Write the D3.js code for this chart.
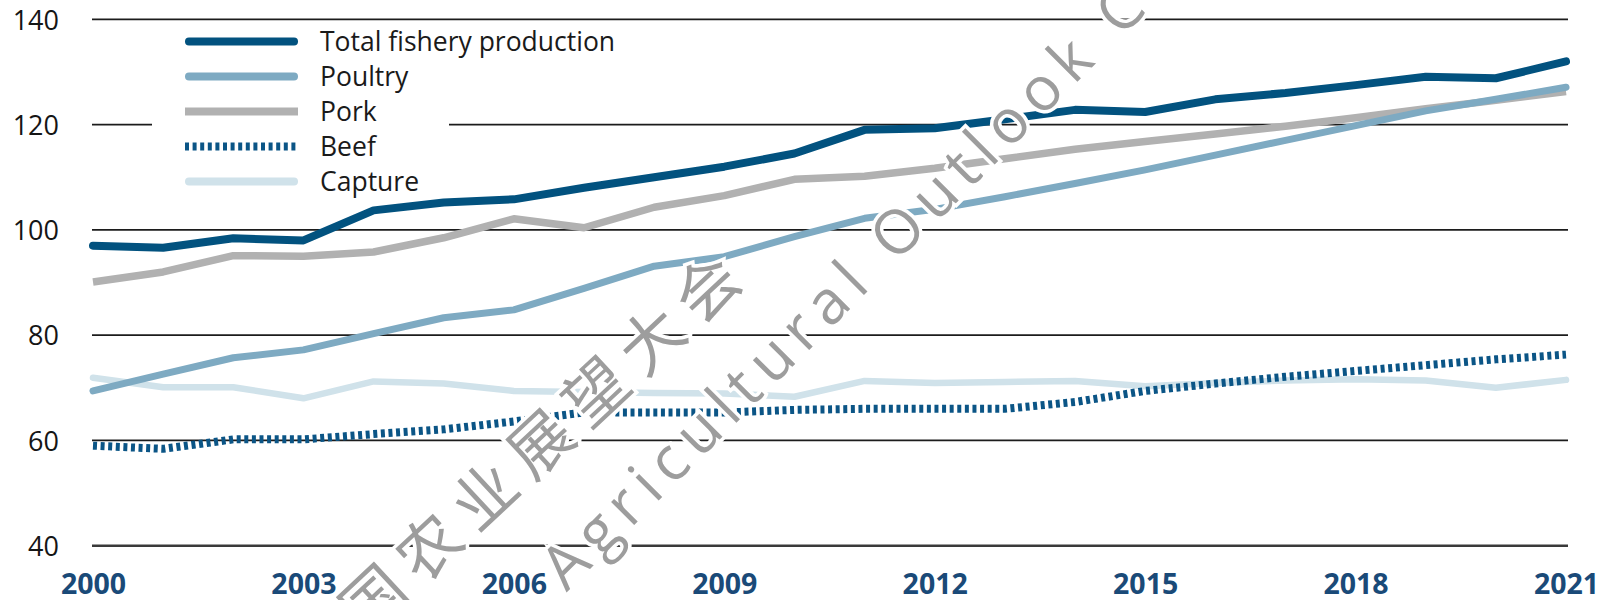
<!DOCTYPE html>
<html>
<head>
<meta charset="utf-8">
<script src="https://cdn.jsdelivr.net/npm/d3@7"></script>
<style>
  html, body { margin: 0; padding: 0; background: #ffffff; }
  svg { display: block; }
</style>
</head>
<body>
<svg id="chart" width="1614" height="600"></svg>
<script>
// Production indices, 2000–2021
const years = d3.range(2000, 2022);
const totalFishery = [97.0, 96.6, 98.4, 98.0, 103.7, 105.2, 105.8, 108.0, 110.0, 112.0, 114.5, 119.0, 119.3, 121.0, 122.8, 122.4, 124.8, 126.0, 127.5, 129.1, 128.8, 132.0];
const poultry      = [69.4, 72.6, 75.7, 77.2, 80.3, 83.3, 84.8, 88.9, 93.1, 94.9, 98.7, 102.2, 103.9, 106.3, 108.8, 111.4, 114.2, 117.0, 119.8, 122.6, 124.8, 127.1];
const pork         = [90.1, 92.0, 95.1, 95.0, 95.8, 98.5, 102.1, 100.4, 104.3, 106.5, 109.6, 110.2, 111.7, 113.5, 115.3, 116.8, 118.2, 119.7, 121.3, 123.0, 124.6, 126.3];
const beef         = [59.0, 58.4, 60.2, 60.2, 61.2, 62.1, 63.6, 65.3, 65.3, 65.3, 65.8, 66.0, 66.0, 66.0, 67.3, 69.4, 70.8, 72.1, 73.2, 74.3, 75.4, 76.3];
const capture      = [71.9, 70.1, 70.1, 68.0, 71.2, 70.8, 69.4, 69.2, 69.0, 68.9, 68.3, 71.3, 70.9, 71.1, 71.3, 70.3, 70.9, 71.4, 71.6, 71.4, 70.0, 71.5];

const seriesNames = ["Total fishery production", "Poultry", "Pork", "Beef", "Capture"];
const yTicks = [40, 60, 80, 100, 120, 140];
const xTicks = [2000, 2003, 2006, 2009, 2012, 2015, 2018, 2021];

const styles = {
  "Total fishery production": { color: "#02527f", width: 8, dash: null, cap: "round" },
  "Poultry": { color: "#7eaac2", width: 7, dash: null, cap: "round" },
  "Pork":    { color: "#b1b1b1", width: 7.5, dash: null, cap: "butt" },
  "Beef":    { color: "#0b5586", width: 8, dash: "4,3.6", cap: "butt" },
  "Capture": { color: "#d0e2ea", width: 6.5, dash: null, cap: "round" }
};
const valuesByName = {
  "Total fishery production": totalFishery,
  "Poultry": poultry,
  "Pork": pork,
  "Beef": beef,
  "Capture": capture
};

const svg = d3.select("#chart");
const x = d3.scaleLinear().domain([2000, 2021]).range([93, 1566]);
const y = d3.scaleLinear().domain([40, 140]).range([545.7, 19.3]);

// horizontal grid
svg.append("g")
  .selectAll("line")
  .data(yTicks)
  .join("line")
  .attr("x1", 92).attr("x2", 1568)
  .attr("y1", d => y(d)).attr("y2", d => y(d))
  .attr("stroke", d => d === 40 ? "#3a3a3a" : "#1c1c1c")
  .attr("stroke-width", d => d === 40 ? 2.4 : 1.8);

// y axis labels
const yAxis = d3.axisLeft(y).tickValues(yTicks).tickSize(0).tickPadding(0);
const gy = svg.append("g").attr("transform", "translate(59,0)").call(yAxis);
gy.select(".domain").remove();
gy.selectAll("text")
  .attr("font-family", "'Open Sans', sans-serif")
  .attr("font-size", 27)
  .attr("fill", "#151515")
  .attr("dy", "0.36em");

// x axis labels
const xAxis = d3.axisBottom(x).tickValues(xTicks).tickFormat(d3.format("d")).tickSize(0).tickPadding(0);
const gx = svg.append("g").attr("transform", "translate(0,594)").call(xAxis);
gx.select(".domain").remove();
gx.selectAll("text")
  .attr("font-family", "'Open Sans', sans-serif")
  .attr("font-weight", 700)
  .attr("font-size", 28.5)
  .attr("fill", "#1a4a78")
  .attr("dy", 0);

// legend box knocks out the gridline behind it
svg.append("rect")
  .attr("x", 152).attr("y", 26).attr("width", 297).attr("height", 170)
  .attr("fill", "#ffffff");

// series lines
const line = d3.line().x((d, i) => x(years[i])).y(d => y(d));
const drawOrder = ["Capture", "Pork", "Poultry", "Beef", "Total fishery production"];
svg.append("g")
  .selectAll("path")
  .data(drawOrder)
  .join("path")
  .attr("d", n => line(valuesByName[n]))
  .attr("fill", "none")
  .attr("stroke", n => styles[n].color)
  .attr("stroke-width", n => styles[n].width)
  .attr("stroke-dasharray", n => styles[n].dash)
  .attr("stroke-linejoin", "round")
  .attr("stroke-linecap", n => styles[n].cap);

// legend
const legend = svg.append("g");
const rowY = i => 41.5 + i * 35;
legend.selectAll("line")
  .data(seriesNames)
  .join("line")
  .attr("x1", n => styles[n].cap === "round" ? 189 : 185)
  .attr("x2", n => styles[n].cap === "round" ? 294 : 298)
  .attr("y1", (n, i) => rowY(i)).attr("y2", (n, i) => rowY(i))
  .attr("stroke", n => styles[n].color)
  .attr("stroke-width", 8)
  .attr("stroke-dasharray", n => styles[n].dash)
  .attr("stroke-linecap", n => styles[n].cap);
legend.selectAll("text")
  .data(seriesNames)
  .join("text")
  .attr("x", 320)
  .attr("y", (n, i) => rowY(i))
  .attr("dy", "0.37em")
  .attr("font-family", "'Open Sans', sans-serif")
  .attr("font-size", 26.5)
  .attr("fill", "#1a1a1a")
  .text(n => n);

// watermark
const wm = svg.append("g").attr("pointer-events", "none");
const halo = sel => sel
  .attr("fill", "#9d9d9d")
  .attr("stroke", "#ffffff")
  .attr("stroke-width", 7)
  .attr("paint-order", "stroke")
  .attr("dominant-baseline", "central");
wm.append("text")
  .attr("transform", "translate(514,462) rotate(-43)")
  .attr("text-anchor", "middle")
  .attr("font-family", "'Noto Sans CJK SC', sans-serif")
  .attr("font-size", 63)
  .attr("letter-spacing", 13)
  .call(halo)
  .text("中国农业展望大会");
wm.append("text")
  .attr("transform", "translate(550,576) rotate(-45)")
  .attr("text-anchor", "start")
  .attr("font-family", "'Open Sans', sans-serif")
  .attr("font-size", 61)
  .attr("letter-spacing", 9.4)
  .call(halo)
  .text("Agricultural Outlook Conference");
wm.append("text")
  .attr("transform", "translate(520,607) rotate(-45)")
  .attr("text-anchor", "end")
  .attr("font-family", "'Open Sans', sans-serif")
  .attr("font-size", 61)
  .attr("letter-spacing", 9.4)
  .call(halo)
  .text("China");
</script>
</body>
</html>
